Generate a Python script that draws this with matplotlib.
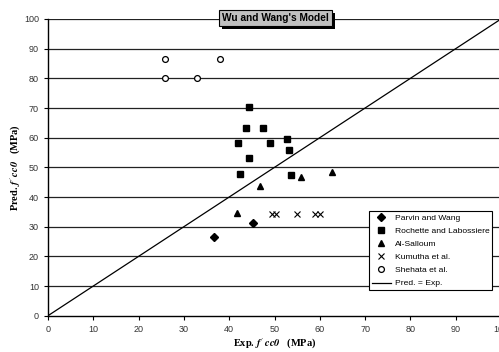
import matplotlib
matplotlib.use("Agg")
import matplotlib.pyplot as plt
import matplotlib.patheffects as pe

plt.rcParams['font.family'] = ['Liberation Sans', 'DejaVu Sans']
plt.rcParams['mathtext.fontset'] = 'stix'

# Data
parvin_x = [36.6, 45.3]
parvin_y = [26.4, 31.2]
rochette_x = [44.3, 43.6, 47.4, 42.0, 48.9, 52.8, 53.3, 44.3, 42.4, 53.7]
rochette_y = [70.2, 63.2, 63.2, 58.1, 58.1, 59.6, 55.7, 53.0, 47.7, 47.4]
salloum_x = [41.8, 46.9, 55.8, 62.6]
salloum_y = [34.5, 43.7, 46.8, 48.6]
kumutha_x = [49.4, 50.3, 55.0, 58.9, 60.0]
kumutha_y = [34.2, 34.2, 34.2, 34.2, 34.2]
shehata_x = [25.8, 38.0, 25.8, 33.0]
shehata_y = [86.5, 86.5, 80.2, 80.2]
line_x = [0, 100]
line_y = [0, 100]
ticks = [0, 10, 20, 30, 40, 50, 60, 70, 80, 90, 100]

fig = plt.figure(figsize=(4.99, 3.52), dpi=100)
ax = fig.add_axes([48/499, 1-315.7/352, 453/499, (315.7-19)/352])
ax.set_xlim(0, 100)
ax.set_ylim(0, 100)

for t in ticks[1:]:
    ax.axhline(t, color='#222222', lw=0.9, zorder=1)

ax.plot(parvin_x, parvin_y, 'D', ms=3.6, color='black', label='Parvin and Wang', zorder=3)
ax.plot(rochette_x, rochette_y, 's', ms=5.0, color='black', label='Rochette and Labossiere', zorder=3)
ax.plot(salloum_x, salloum_y, '^', ms=5.0, color='black', label='Al-Salloum', zorder=3)
ax.plot(kumutha_x, kumutha_y, 'x', ms=4.5, mew=0.8, color='black', label='Kumutha et al.', zorder=3)
ax.plot(shehata_x, shehata_y, 'o', ms=4.2, mfc='white', mec='black', mew=0.9, label='Shehata et al.', zorder=3)
ax.plot(line_x, line_y, '-', color='black', lw=0.9, label='Pred. = Exp.', zorder=2)

ax.set_xticks(ticks)
ax.set_yticks(ticks)
ax.tick_params(labelsize=6.5, labelcolor='#333333', length=3, width=0.8, direction='out')
for s in ['top', 'right']:
    ax.spines[s].set_visible(False)
ax.spines['left'].set_linewidth(1.0)
ax.spines['bottom'].set_linewidth(1.0)

sym = r"$\mathbfit{f}^{\,\prime}\,\mathbfit{cc0}$"
ax.set_xlabel("Exp. " + sym + "   (MPa)", family='Liberation Serif', fontweight='bold', fontsize=7.5, labelpad=2)
ax.set_ylabel("Pred. " + sym + "   (MPa)", family='Liberation Serif', fontweight='bold', fontsize=7.5, labelpad=1)

leg = ax.legend(loc='upper left', bbox_to_anchor=(0.709, 0.354), fontsize=6.1, frameon=True,
                fancybox=False, edgecolor='black', framealpha=1, borderpad=0.35,
                labelspacing=0.62, handlelength=2.2, handletextpad=0.45, borderaxespad=0)
leg.get_frame().set_linewidth(0.8)
leg.set_zorder(5)

# Title box with shadow
t = ax.text(50.3, 100.3, "Wu and Wang's Model", ha='center', va='center',
            fontsize=7.3, fontweight='bold', color='black',
            bbox=dict(boxstyle='square,pad=0.3', fc='#c0c0c0', ec='black', lw=0.8), zorder=7, clip_on=False)
t.get_bbox_patch().set_path_effects([
    pe.withSimplePatchShadow(offset=(2, -2), shadow_rgbFace='black', alpha=1.0)])

fig.savefig('out.png', dpi=100)
